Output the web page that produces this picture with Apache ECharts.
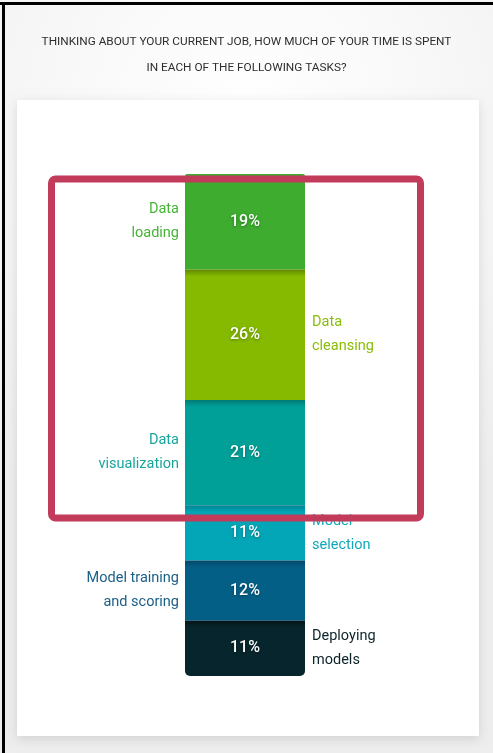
<!DOCTYPE html>
<html>
<head>
<meta charset="utf-8">
<script src="https://cdn.jsdelivr.net/npm/echarts@6/dist/echarts.min.js"></script>
<style>
html,body{margin:0;padding:0;background:#f4f4f4;}
#c{width:493px;height:753px;}
</style>
</head>
<body>
<div id="c"></div>
<script>
// ---- data ----
var tasks = ['Data loading', 'Data cleansing', 'Data visualization', 'Model selection', 'Model training and scoring', 'Deploying models'];
var taskLabels = ['Data\nloading', 'Data\ncleansing', 'Data\nvisualization', 'Model\nselection', 'Model training\nand scoring', 'Deploying\nmodels'];
var shares = [19, 26, 21, 11, 12, 11];
var labelSide = ['left', 'right', 'left', 'right', 'left', 'right'];
var titleText = 'THINKING ABOUT YOUR CURRENT JOB, HOW MUCH OF YOUR TIME IS SPENT\nIN EACH OF THE FOLLOWING TASKS?';

// ---- style ----
var segColors = ['#3dac2f', '#85ba00', '#00a098', '#03a6b6', '#045f87', '#07252c'];
var topColors = ['#3dac2f', '#5f8600', '#007a73', '#038492', '#034868', '#031519'];
var textColors = ['#46b337', '#8abd08', '#19a59c', '#12a9b9', '#1b6088', '#0c2329'];
var FONT = 'Roboto, "DejaVu Sans", sans-serif';
var gridTop = 174, gridH = 502;

var chart = echarts.init(document.getElementById('c'), null, {renderer: 'canvas'});

var series = [];
shares.forEach(function (v, i) {
  var segH = v / 100 * gridH;
  var stop = Math.min(0.5, 7 / segH);
  var radius = i === 0 ? [2, 2, 0, 0] : (i === shares.length - 1 ? [0, 0, 5, 5] : 0);
  series.push({
    type: 'bar', name: tasks[i], stack: 'a', xAxisIndex: 0, yAxisIndex: 0,
    barWidth: '100%', data: [v], z: 3,
    itemStyle: {
      borderRadius: radius,
      color: new echarts.graphic.LinearGradient(0, 0, 0, 1, [
        {offset: 0, color: topColors[i]},
        {offset: stop, color: segColors[i]},
        {offset: 1, color: segColors[i]}
      ])
    },
    label: {
      show: true, position: 'inside', formatter: '{c}%', color: '#ffffff',
      fontFamily: FONT, fontSize: 16, fontWeight: 500,
      textShadowColor: 'rgba(0,0,0,0.35)', textShadowBlur: 3, textShadowOffsetY: 1
    },
    emphasis: {disabled: true}, silent: true
  });
});
shares.forEach(function (v, i) {
  series.push({
    type: 'bar', name: tasks[i] + ' label', stack: 'b', xAxisIndex: 1, yAxisIndex: 1,
    barWidth: '100%', data: [v], z: 2,
    itemStyle: {color: 'rgba(0,0,0,0)'},
    label: {
      show: true, position: labelSide[i], distance: labelSide[i] === 'left' ? 6 : 7,
      formatter: taskLabels[i], color: textColors[i], fontFamily: FONT, fontSize: 14.5, fontWeight: 'normal',
      lineHeight: 24, align: labelSide[i] === 'left' ? 'right' : 'left'
    },
    emphasis: {disabled: true}, silent: true
  });
});

var option = {
  animation: false,
  backgroundColor: '#f4f4f4',
  title: {
    text: titleText, left: 'center', top: 24,
    textStyle: {fontFamily: FONT, fontSize: 11.8, fontWeight: 'normal', color: '#2e2e2e', lineHeight: 26}
  },
  grid: [{left: 185, top: gridTop, width: 120, height: gridH}],
  xAxis: [
    {type: 'category', data: ['time'], show: false, gridIndex: 0},
    {type: 'category', data: ['time'], show: false, gridIndex: 0}
  ],
  yAxis: [
    {type: 'value', min: 0, max: 100, inverse: true, show: false, gridIndex: 0},
    {type: 'value', min: 0, max: 100, inverse: true, show: false, gridIndex: 0}
  ],
  graphic: [
    {type: 'rect', z: -10, shape: {x: 0, y: 0, width: 493, height: 753},
      style: {fill: new echarts.graphic.RadialGradient(0.5, 0.15, 0.9, [
        {offset: 0, color: '#ffffff'}, {offset: 1, color: '#eeeeee'}])}, silent: true},
    {type: 'rect', z: -5, shape: {x: 17, y: 100, width: 462, height: 636},
      style: {fill: '#ffffff', shadowBlur: 10, shadowColor: 'rgba(0,0,0,0.12)', shadowOffsetY: 3}, silent: true},
    {type: 'rect', z: 50, shape: {x: 0, y: 2, width: 493, height: 3}, style: {fill: '#000000'}, silent: true},
    {type: 'rect', z: 50, shape: {x: 2, y: 2, width: 3, height: 751}, style: {fill: '#000000'}, silent: true},
    {type: 'rect', z: 100, shape: {x: 51.5, y: 179, width: 369, height: 339, r: 4},
      style: {fill: 'none', stroke: '#c23b5b', lineWidth: 7}, silent: true}
  ],
  series: series
};
chart.setOption(option);
</script>
</body>
</html>
